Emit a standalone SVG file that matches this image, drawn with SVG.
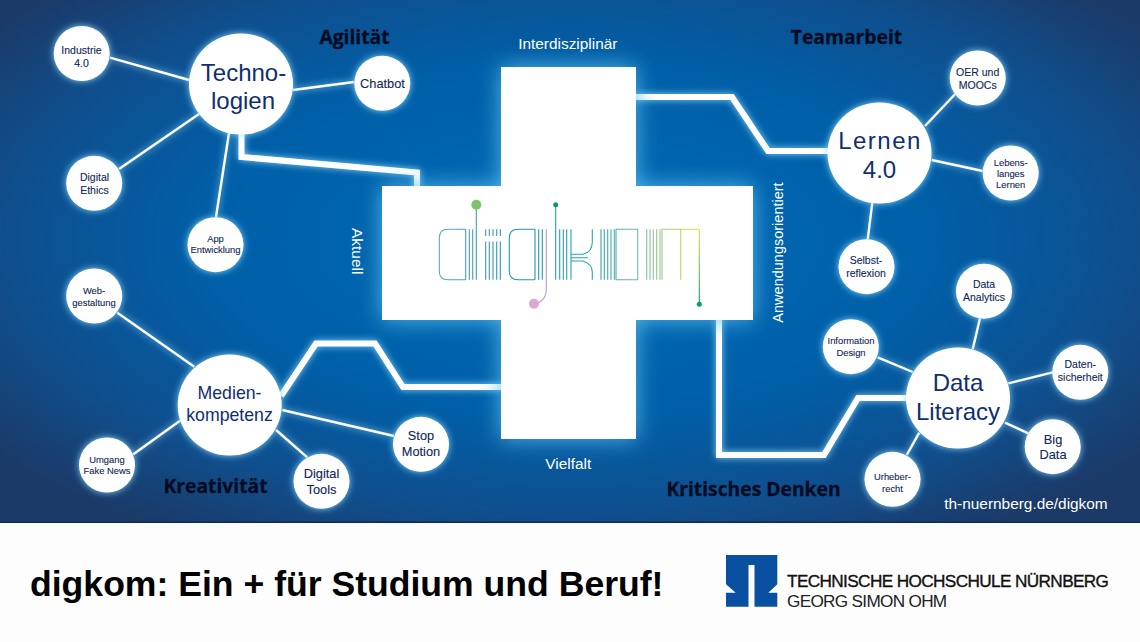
<svg xmlns="http://www.w3.org/2000/svg" width="1140" height="642" viewBox="0 0 1140 642">
<style>
text{font-family:"Liberation Sans",Arial,sans-serif;text-anchor:middle}
.n{fill:#fff;filter:url(#glow)}
.t{fill:#12295a;stroke:#12295a;stroke-width:.12}
.b{fill:#0f2f70}
.s{font-size:10.5px}
.m{font-size:12.8px}
.x{font-size:9.4px}
.h{font-family:"Open Sans","Noto Sans",sans-serif;font-weight:700;font-size:19.3px;fill:#050b22;stroke:#050b22;stroke-width:.3}
.w{fill:#fff;font-size:15.4px}
.c{stroke:#fff;stroke-width:2.4;fill:none}
.k{stroke:#fff;stroke-width:6;fill:none;stroke-linejoin:miter}
.l{fill:none;stroke:url(#logo);stroke-width:1.1}
</style>
<defs>
<radialGradient id="bg" gradientUnits="userSpaceOnUse" cx="0" cy="0" r="1" gradientTransform="translate(570 240) scale(720 350)">
<stop offset="0" stop-color="#006bb6"/>
<stop offset=".5" stop-color="#005fa8"/>
<stop offset=".78" stop-color="#0f4f8e"/>
<stop offset="1" stop-color="#1b3a68"/>
</radialGradient>
<linearGradient id="logo" gradientUnits="userSpaceOnUse" x1="439" y1="0" x2="700" y2="0">
<stop offset="0" stop-color="#5fa6bd"/>
<stop offset=".3" stop-color="#1f94ad"/>
<stop offset=".6" stop-color="#2ea5b0"/>
<stop offset=".8" stop-color="#84bfa8"/>
<stop offset="1" stop-color="#e4e23c"/>
</linearGradient>
<linearGradient id="tail" gradientUnits="userSpaceOnUse" x1="0" y1="229" x2="0" y2="304">
<stop offset="0" stop-color="#e4e23c"/>
<stop offset="1" stop-color="#0a9a72"/>
</linearGradient>
<filter id="glow" x="-40%" y="-40%" width="180%" height="180%">
<feGaussianBlur in="SourceAlpha" stdDeviation="3.500" result="b"/>
<feFlood flood-color="#8fdcff" flood-opacity=".95"/>
<feComposite in2="b" operator="in" result="g"/>
<feMerge><feMergeNode in="g"/><feMergeNode in="SourceGraphic"/></feMerge>
</filter>
<filter id="glowline" filterUnits="userSpaceOnUse" x="0" y="0" width="1140" height="522">
<feGaussianBlur in="SourceAlpha" stdDeviation="3.500" result="b"/>
<feFlood flood-color="#8fdcff" flood-opacity=".95"/>
<feComposite in2="b" operator="in" result="g"/>
<feMerge><feMergeNode in="g"/><feMergeNode in="SourceGraphic"/></feMerge>
</filter>
<filter id="glowcross" filterUnits="userSpaceOnUse" x="300" y="0" width="560" height="522">
<feGaussianBlur in="SourceAlpha" stdDeviation="11" result="b"/>
<feFlood flood-color="#5cc0f0" flood-opacity=".9"/>
<feComposite in2="b" operator="in" result="g"/>
<feMerge><feMergeNode in="g"/><feMergeNode in="SourceGraphic"/></feMerge>
</filter>
</defs>

<rect width="1140" height="522" fill="url(#bg)"/>
<rect y="522" width="1140" height="120" fill="#fdfdfd"/>
<rect y="521.500" width="1140" height="1.500" fill="#0d2a55"/>

<g id="connectors">
<g filter="url(#glowline)">
<path class="k" d="M241.500 130V157L417 172.500V190"/>
<path class="k" d="M630 97H732L768 151H832"/>
<path class="k" d="M719 316V455H824L858 398H910"/>
<path class="k" d="M505 387H403L375 343.500H316L281 396"/>
</g>
<g filter="url(#glow)">
<path class="c" d="M110 57.700L189 80"/>
<path class="c" d="M293 90L354 82"/>
<path class="c" d="M119 169L199 114"/>
<path class="c" d="M229 133L216 217"/>
<path class="c" d="M925 126L955 94.300"/>
<path class="c" d="M931.700 160L982.700 171"/>
<path class="c" d="M872.300 202.700L867.700 239.300"/>
<path class="c" d="M980 318.300L972.700 349.300"/>
<path class="c" d="M877.700 357.300L912.700 372"/>
<path class="c" d="M1052.700 372.300L1008.300 383.300"/>
<path class="c" d="M1005 422.700L1028.300 433.300"/>
<path class="c" d="M919.300 432.700L906.700 455"/>
<path class="c" d="M117.300 312.700L194.300 366.700"/>
<path class="c" d="M133.300 454.300L180 420.700"/>
<path class="c" d="M282.300 410L394 436"/>
<path class="c" d="M276 430L307.300 457.300"/>
</g>
</g>

<g id="cross">
<path fill="#fff" filter="url(#glowcross)" d="M501 67H636V186H753V320H636V439H501V320H382V186H501Z"/>
<g id="digkom-logo">
<path class="l" d="M465.700 229.300H448Q439.300 229.300 439.300 238V271Q439.300 279.700 448 279.700H465.700M465.700 229.300V279.700M469.300 229.300V279.700M472.700 229.300V279.700M476.300 205V279.700"/>
<path class="l" d="M485.700 229.300V236M489.300 229.300V236M493 229.300V236M496.700 229.300V236M500.300 229.300V236M485.700 241.500V279.700M489.300 241.500V279.700M493 241.500V279.700M496.700 241.500V279.700M500.300 241.500V279.700"/>
<path class="l" d="M535 229.300H518Q509.300 229.300 509.300 238V271Q509.300 279.700 518 279.700H535M535 229.300V279.700M538.700 229.300V279.700M542.300 229.300V279.700"/>
<path class="l" d="M546.300 229.300V290Q546.300 299 538 303" style="stroke:#c09ac0"/>
<path class="l" d="M555.700 205V279.700M559.700 229.300V279.700M563.300 229.300V279.700M566.700 229.300V279.700M571 229.300V279.700M571 254.300H583Q592.300 252 592.300 242V229.300M571 257.700H588M571 261H583Q592.300 264 592.300 272V279.700"/>
<path class="l" d="M601 229.300V279.700M604.300 229.300V279.700M607.700 229.300V279.700M611 229.300V279.700M614.300 229.300V279.700M616 229.300H637.700V279.700H616V229.300"/>
<path class="l" d="M646.700 229.300V279.700M650 229.300V279.700M653.300 229.300V279.700M656.700 229.300V279.700M660 229.300V279.700M662 229.300V279.700M662 229.300H699.300M680.700 229.300V279.700"/>
<path fill="none" stroke="url(#tail)" stroke-width="1.100" d="M699.300 229.300V304"/>
<circle cx="476.300" cy="204.700" r="5" fill="#7fc46a"/>
<circle cx="555.700" cy="204.700" r="2.500" fill="#0a9a72"/>
<circle cx="534" cy="303.700" r="5" fill="#dba8d2"/>
<circle cx="699.300" cy="304.300" r="2.500" fill="#0a9a72"/>
</g>
</g>

<g id="technologien"><ellipse class="n" cx="241" cy="84" rx="52" ry="50.500"/><text class="b" font-size="24" x="243.500" y="81">Techno-</text><text class="b" font-size="24" x="243" y="109.300">logien</text></g>
<g id="industrie"><ellipse class="n" cx="81.700" cy="53.500" rx="28" ry="27.500"/><text class="t s" x="81.500" y="54">Industrie</text><text class="t s" x="81.500" y="66.700">4.0</text></g>
<g id="chatbot"><ellipse class="n" cx="382.300" cy="83.300" rx="28" ry="27.500"/><text class="t m" x="382.500" y="88.300">Chatbot</text></g>
<g id="digital-ethics"><ellipse class="n" cx="94.200" cy="183.300" rx="28" ry="27.500"/><text class="t s" x="94.500" y="181">Digital</text><text class="t s" x="94.500" y="194">Ethics</text></g>
<g id="app"><ellipse class="n" cx="215.500" cy="244.700" rx="28" ry="27.500"/><text class="t x" x="215.500" y="241.700">App</text><text class="t x" x="215.500" y="253.300">Entwicklung</text></g>

<g id="lernen"><ellipse class="n" cx="879.500" cy="153" rx="52" ry="50.500"/><text class="b" font-size="24" letter-spacing="1.500" x="880" y="149">Lernen</text><text class="b" font-size="24" x="879.500" y="178.300">4.0</text></g>
<g id="oer"><ellipse class="n" cx="977.700" cy="78" rx="28" ry="27.500"/><text class="t s" x="977.700" y="76">OER und</text><text class="t s" x="977.700" y="88.700">MOOCs</text></g>
<g id="lebenslanges-lernen"><ellipse class="n" cx="1010.700" cy="173" rx="28" ry="27.500"/><text class="t x" x="1010.700" y="165.700">Lebens-</text><text class="t x" x="1010.700" y="177">langes</text><text class="t x" x="1010.700" y="188.300">Lernen</text></g>
<g id="selbstreflexion"><ellipse class="n" cx="866.500" cy="266.700" rx="28" ry="27.500"/><text class="t s" x="866" y="264.300">Selbst-</text><text class="t s" x="866" y="277">reflexion</text></g>

<g id="data-literacy"><ellipse class="n" cx="958" cy="398" rx="52" ry="50.500"/><text class="b" font-size="24" x="958" y="391">Data</text><text class="b" font-size="24" x="958" y="420">Literacy</text></g>
<g id="data-analytics"><ellipse class="n" cx="984" cy="291.200" rx="28" ry="27.500"/><text class="t s" x="984" y="288.300">Data</text><text class="t s" x="984" y="301">Analytics</text></g>
<g id="information-design"><ellipse class="n" cx="850.800" cy="346.700" rx="28" ry="27.500"/><text class="t x" x="851" y="344">Information</text><text class="t x" x="851" y="355.700">Design</text></g>
<g id="datensicherheit"><ellipse class="n" cx="1080.300" cy="372.300" rx="28" ry="27.500"/><text class="t s" x="1080.300" y="367.700">Daten-</text><text class="t s" x="1080.300" y="380.700">sicherheit</text></g>
<g id="big-data"><ellipse class="n" cx="1052.700" cy="446.700" rx="28" ry="27.500"/><text class="t m" x="1053" y="444">Big</text><text class="t m" x="1053" y="459">Data</text></g>
<g id="urheberrecht"><ellipse class="n" cx="892.500" cy="479.300" rx="28" ry="27.500"/><text class="t x" x="892.500" y="480">Urheber-</text><text class="t x" x="892.500" y="492.300">recht</text></g>

<g id="medienkompetenz"><ellipse class="n" cx="229.700" cy="405" rx="52" ry="50.500"/><text class="b" font-size="17.700" x="229.500" y="399.300">Medien-</text><text class="b" font-size="17.700" x="229.500" y="421">kompetenz</text></g>
<g id="webgestaltung"><ellipse class="n" cx="94.200" cy="296" rx="28" ry="27.500"/><text class="t x" x="94" y="294">Web-</text><text class="t x" x="94" y="305.700">gestaltung</text></g>
<g id="fake-news"><ellipse class="n" cx="107" cy="465" rx="28" ry="27.500"/><text class="t x" x="107" y="462.700">Umgang</text><text class="t x" x="107" y="474">Fake News</text></g>
<g id="digital-tools"><ellipse class="n" cx="321.500" cy="481.300" rx="28" ry="27.500"/><text class="t m" x="321.500" y="478.300">Digital</text><text class="t m" x="321.500" y="494">Tools</text></g>
<g id="stop-motion"><ellipse class="n" cx="421" cy="444.300" rx="28" ry="27.500"/><text class="t m" x="421" y="440">Stop</text><text class="t m" x="421" y="455.700">Motion</text></g>

<g id="labels">
<text class="h" x="354.500" y="44">Agilität</text>
<text class="h" x="846.500" y="44">Teamarbeit</text>
<text class="h" x="215.500" y="493">Kreativität</text>
<text class="h" x="753.500" y="495.500">Kritisches Denken</text>
<text class="w" x="567.800" y="49">Interdisziplinär</text>
<text class="w" x="568.300" y="469.300">Vielfalt</text>
<text class="w" transform="translate(352 251.200) rotate(90)">Aktuell</text>
<text class="w" style="font-size:14.500px" transform="translate(783 252.500) rotate(-90)">Anwendungsorientiert</text>
<text class="w" x="1026" y="509">th-nuernberg.de/digkom</text>
</g>

<g id="footer">
<text x="30" y="596" style="text-anchor:start;font-weight:700;font-size:35.600px;fill:#000">digkom: Ein + für Studium und Beruf!</text>
<path fill="#0a50a0" d="M726 555H777.300V584.300L768.300 592.700H777.300V606.700H754.500V565H748.500V606.700H726V592.700H735.700L726 584.300Z"/>
<text x="787" y="587" style="text-anchor:start;font-size:17.200px;letter-spacing:-.62px;fill:#111;stroke:#111;stroke-width:.35">TECHNISCHE HOCHSCHULE NÜRNBERG</text>
<text x="787" y="606.500" style="text-anchor:start;font-size:17.200px;letter-spacing:-.7px;fill:#222">GEORG SIMON OHM</text>
</g>
</svg>
